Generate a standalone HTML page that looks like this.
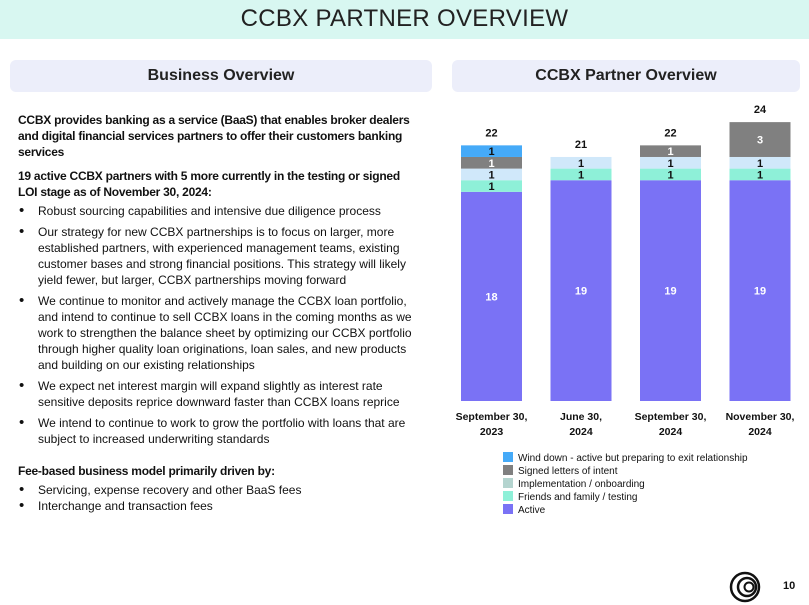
<!DOCTYPE html>
<html><head><meta charset="utf-8"><style>
body{margin:0;width:809px;height:605px;background:#fff;font-family:"Liberation Sans",sans-serif;position:relative;overflow:hidden;color:#111}
.hdr{position:absolute;left:0;top:0;width:809px;height:39px;background:#d8f7f1;text-align:center;font-size:24px;line-height:38px;color:#222;letter-spacing:0.3px;font-weight:300}
.sec{position:absolute;top:60px;height:32px;background:#eceefa;border-radius:6px;text-align:center;font-weight:bold;font-size:16px;line-height:32px;color:#222}
.txt{position:absolute;left:18px;top:112px;width:420px;font-size:12px;line-height:16px}
.txt b{letter-spacing:-0.25px;white-space:nowrap}
.txt p{margin:0 0 8px 0}
.txt ul{margin:0 0 0 0;padding:0;list-style:none}
.txt li{position:relative;padding-left:20px;margin-bottom:5px;width:385px}
.txt li:before{content:"•";position:absolute;left:1px;font-size:15px}
</style></head><body>
<div class="hdr">CCBX PARTNER OVERVIEW</div>
<div class="sec" style="left:10px;width:422px">Business Overview</div>
<div class="sec" style="left:452px;width:348px">CCBX Partner Overview</div>
<div class="txt">
<p><b>CCBX provides banking as a service (BaaS) that enables broker dealers<br>and digital financial services partners to offer their customers banking<br>services</b></p>
<p style="margin-bottom:3px"><b>19 active CCBX partners with 5 more currently in the testing or signed<br>LOI stage as of November 30, 2024:</b></p>
<ul>
<li>Robust sourcing capabilities and intensive due diligence process</li>
<li>Our strategy for new CCBX partnerships is to focus on larger, more established partners, with experienced management teams, existing customer bases and strong financial positions. This strategy will likely yield fewer, but larger, CCBX partnerships moving forward</li>
<li>We continue to monitor and actively manage the CCBX loan portfolio, and intend to continue to sell CCBX loans in the coming months as we work to strengthen the balance sheet by optimizing our CCBX portfolio through higher quality loan originations, loan sales, and new products and building on our existing relationships</li>
<li>We expect net interest margin will expand slightly as interest rate sensitive deposits reprice downward faster than CCBX loans reprice</li>
<li>We intend to continue to work to grow the portfolio with loans that are subject to increased underwriting standards</li>
</ul>
<p style="margin-top:16px;margin-bottom:3px"><b>Fee-based business model primarily driven by:</b></p>
<ul>
<li style="margin-bottom:0">Servicing, expense recovery and other BaaS fees</li>
<li>Interchange and transaction fees</li>
</ul>
</div>
<svg id="chart" width="809" height="605" style="position:absolute;left:0;top:0"></svg>
<svg width="34" height="34" style="position:absolute;left:728px;top:570px">
<circle cx="17" cy="17" r="14" fill="none" stroke="#111" stroke-width="2.5"/>
<circle cx="19" cy="17" r="9" fill="none" stroke="#111" stroke-width="2.5"/>
<circle cx="21" cy="17" r="4.5" fill="none" stroke="#111" stroke-width="2"/>
</svg>
<div style="position:absolute;left:783px;top:580px;font-size:11px;font-weight:bold">10</div>
<script>
const categories=[["September 30,","2023"],["June 30,","2024"],["September 30,","2024"],["November 30,","2024"]];
const seriesNames=["Active","Friends and family / testing","Implementation / onboarding","Signed letters of intent","Wind down - active but preparing to exit relationship"];
const active=[18,19,19,19];
const friends=[1,1,1,1];
const implementation=[1,1,1,1];
const signedLoi=[1,0,1,3];
const windDown=[1,0,0,0];
const totals=[22,21,22,24];
const colors=["#7a72f5","#8ef0d8","#d0e8fa","#808080","#45aaf8"];
const textColors=["#fff","#111","#111","#fff","#111"];
const series=[active,friends,implementation,signedLoi,windDown];
const NS="http://www.w3.org/2000/svg";
const svg=document.getElementById('chart');
const base=401, unit=11.62, x0=461, step=89.5, bw=61;
const yS=v=>base-v*unit;
const xS=i=>x0+i*step;
function mk(t,a){const e=document.createElementNS(NS,t);for(const k in a)e.setAttribute(k,a[k]);svg.appendChild(e);return e;}
categories.forEach((c,i)=>{
  let cum=0;
  series.forEach((s,j)=>{
    const v=s[i]; if(!v) return;
    const r=mk('rect',{x:xS(i),y:yS(cum+v),width:bw,height:v*unit,fill:colors[j]});
    
    
    const t=mk('text',{x:xS(i)+bw/2,y:yS(cum+v/2)+4,'text-anchor':'middle','font-size':11,'font-weight':'bold',fill:textColors[j]});
    t.textContent=v;
    
    
    cum+=v;
  });
  const tt=mk('text',{x:xS(i)+bw/2,y:yS(totals[i])-9,'text-anchor':'middle','font-size':11,'font-weight':'bold',fill:'#111'});
  tt.textContent=totals[i];
  
  
  c.forEach((l,k)=>{
    const ct=mk('text',{x:xS(i)+bw/2,y:420+k*15,'text-anchor':'middle','font-size':10.5,'font-weight':'bold',fill:'#111'});
    ct.textContent=l;
    
    
  });
});
const legendOrder=[4,3,2,1,0];
const legColors=["#7a72f5","#8ef0d8","#b4d4cf","#808080","#45aaf8"];
legendOrder.forEach((j,k)=>{
  const y=452+k*13;
  const r=mk('rect',{x:503,y:y,width:10,height:10,fill:legColors[j]});
  
  
  const t=mk('text',{x:518,y:y+9,'font-size':10,fill:'#111'});
  t.textContent=seriesNames[j];
  
  
});
</script>
</body></html>
